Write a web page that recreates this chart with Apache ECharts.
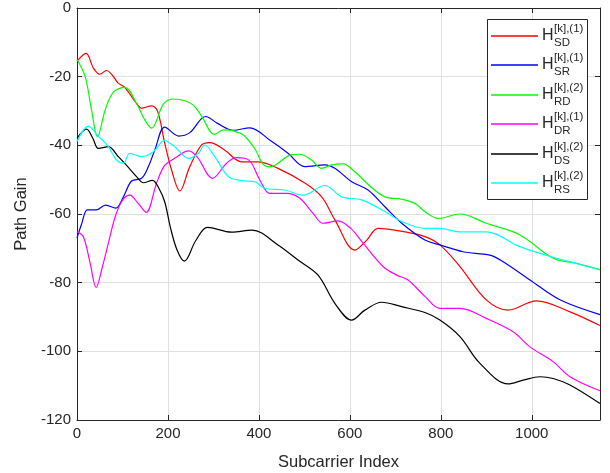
<!DOCTYPE html>
<html>
<head>
<meta charset="utf-8">
<script src="https://cdn.jsdelivr.net/npm/echarts@6/dist/echarts.min.js"></script>
<style>
html,body{margin:0;padding:0;background:#fff;}
#chart{width:610px;height:473px;}
</style>
</head>
<body>
<div id="chart"></div>
<script>
// ---- data ----
const xTicks = [0, 200, 400, 600, 800, 1000];
const yTicks = [-120, -100, -80, -60, -40, -20, 0];

const sdData = [[0,-15.5],[20,-13.2],[36,-17.5],[50,-19.3],[65,-18.2],[78,-19.6],[90,-21.8],[105,-23.1],[131,-27.8],[142,-29.2],[164,-28.5],[177,-30],[193,-39.4],[208,-47.2],[226,-53.3],[248,-46.2],[274,-39.9],[292,-39.2],[325,-41.4],[362,-44.8],[398,-44.8],[442,-46.7],[501,-51],[538,-55],[567,-61.7],[611,-70.5],[637,-67.6],[662,-64.2],[721,-65.2],[765,-66.6],[798,-69],[842,-75.3],[900,-85],[948,-88],[1010,-85.3],[1084,-88.5],[1150,-92.5]];
const srData = [[0,-67],[10,-63],[23,-58.8],[42,-58.8],[63,-57.4],[85,-58.3],[102,-55],[120,-50.4],[142,-49.6],[157,-46.2],[171,-41.4],[193,-34.7],[224,-37.3],[248,-36.3],[283,-31.6],[309,-33.6],[344,-35.6],[380,-34.9],[426,-38.7],[464,-42.3],[501,-46.2],[545,-45.7],[567,-46.7],[604,-50.6],[640,-53],[677,-57.9],[714,-62.7],[765,-67.6],[798,-69],[849,-71],[908,-72],[937,-73.9],[996,-79.2],[1062,-85],[1150,-89.3]];
const rdData = [[0,-15],[18,-20],[32,-29.7],[45,-37.5],[62,-29.7],[80,-24.5],[105,-23.1],[131,-27.8],[149,-32.6],[164,-35],[190,-28],[212,-26.5],[237,-27],[256,-28.3],[274,-31.5],[302,-36.8],[322,-35.5],[344,-35.8],[366,-37],[391,-41],[409,-45.5],[424,-46.3],[470,-42.8],[490,-42.6],[516,-44.3],[538,-46.7],[560,-45.7],[585,-45.4],[611,-47.7],[648,-52.3],[677,-55],[714,-55.7],[743,-56.9],[765,-59.3],[794,-61.3],[842,-60],[900,-62.7],[974,-66.1],[1047,-72.9],[1098,-74.4],[1150,-76.2]];
const drData = [[0,-65.2],[14,-66.6],[29,-74.4],[42,-81.4],[56,-75.3],[69,-68.5],[84,-60.8],[100,-56],[116,-54.5],[135,-57],[152,-59.5],[175,-51],[192,-46],[212,-44],[246,-41.6],[265,-43.5],[298,-49.6],[329,-45.2],[351,-43.6],[378,-44.3],[402,-50.1],[424,-54],[461,-54],[490,-55.4],[519,-59.8],[541,-62.7],[574,-62],[602,-64.2],[629,-68.5],[673,-75.3],[703,-77.8],[728,-79.2],[765,-84],[798,-87.5],[842,-87.5],[900,-90.4],[959,-94.3],[996,-98.7],[1047,-103],[1084,-107.4],[1150,-111.5]];
const dsData = [[0,-38],[21,-35.3],[35,-38],[47,-40.9],[69,-40.4],[91,-43.3],[113,-46.4],[131,-49.1],[146,-50.9],[166,-50.2],[180,-52.5],[193,-56.5],[205,-63.7],[220,-70.5],[236,-73.7],[261,-67.8],[287,-63.9],[340,-65.3],[385,-64.7],[442,-69],[486,-73.4],[530,-77.8],[567,-86],[604,-90.9],[633,-88],[670,-85.7],[714,-87],[765,-88.7],[798,-90.9],[842,-95.7],[886,-103.5],[948,-109.5],[981,-108.4],[1018,-107.4],[1047,-107.9],[1084,-109.8],[1150,-115.2]];
const rsData = [[0,-38.9],[25,-34.4],[47,-37.3],[69,-40.4],[87,-44.3],[102,-45.2],[116,-42.3],[142,-43.3],[168,-41.9],[192,-38.6],[215,-40.4],[245,-43.8],[267,-42.3],[281,-39.9],[303,-43.3],[333,-49.1],[362,-50.3],[391,-50.6],[413,-52.5],[457,-53],[497,-54.5],[545,-51.7],[582,-55],[626,-55.9],[677,-59.3],[714,-62.2],[765,-64.2],[798,-64.2],[842,-65.2],[900,-65.2],[974,-69.5],[1047,-72.6],[1098,-74.4],[1150,-76.3]];

const legendSub = ['SD', 'SR', 'RD', 'DR', 'DS', 'RS'];
const legendSup = ['[k],(1)', '[k],(1)', '[k],(2)', '[k],(1)', '[k],(2)', '[k],(2)'];
const seriesColors = ['#ff0000', '#0000ff', '#00ff00', '#ff00ff', '#000000', '#00ffff'];
const seriesData = [sdData, srData, rdData, drData, dsData, rsData];

// ---- chart ----
const FONT = '"Liberation Sans", Arial, Helvetica, sans-serif';
const AX = '#262626';
const chart = echarts.init(document.getElementById('chart'), null, {renderer: 'canvas'});

const series = seriesData.map((d, i) => ({
  name: 'H_' + legendSub[i] + '^' + legendSup[i],
  type: 'line',
  data: d,
  smooth: 0.35,
  showSymbol: false,
  symbol: 'none',
  xAxisIndex: 0,
  yAxisIndex: 0,
  lineStyle: {color: seriesColors[i], width: 1.2},
  itemStyle: {color: seriesColors[i]},
  z: 3
}));

const graphic = [{
  type: 'rect', z: 100,
  shape: {x: 487.5, y: 19.5, width: 100, height: 180},
  style: {fill: '#fff', stroke: AX, lineWidth: 1}
}];
legendSub.forEach((s, i) => {
  const y = Math.round(36 + 29.4 * i);
  graphic.push({type: 'line', z: 101, shape: {x1: 491, y1: y, x2: 538, y2: y},
    style: {stroke: seriesColors[i], lineWidth: 1.6}});
  graphic.push({type: 'text', z: 101, x: 542, y: y,
    style: {text: 'H', fontSize: 16, fontFamily: FONT, fill: AX, verticalAlign: 'middle', align: 'left'}});
  graphic.push({type: 'text', z: 101, x: 554, y: y - 7,
    style: {text: legendSup[i], fontSize: 11.5, fontFamily: FONT, fill: AX, verticalAlign: 'middle', align: 'left'}});
  graphic.push({type: 'text', z: 101, x: 554, y: y + 7,
    style: {text: s, fontSize: 11.5, fontFamily: FONT, fill: AX, verticalAlign: 'middle', align: 'left'}});
});

const plainNum = v => String(v);

const option = {
  animation: false,
  backgroundColor: '#fff',
  grid: {left: 77, right: 10, top: 8, bottom: 53, containLabel: false, outerBoundsMode: 'none'},
  xAxis: [{
    type: 'value', min: 0, max: 1150, interval: 200, position: 'bottom',
    name: 'Subcarrier Index', nameLocation: 'middle', nameGap: 34,
    nameTextStyle: {fontSize: 16.5, fontFamily: FONT, color: AX},
    axisLine: {show: true, onZero: false, lineStyle: {color: AX, width: 1}},
    axisTick: {show: true, inside: true, length: 5, lineStyle: {color: AX}},
    axisLabel: {fontSize: 15, fontFamily: FONT, color: AX, margin: 6, showMaxLabel: false, formatter: plainNum},
    splitLine: {show: true, lineStyle: {color: '#e0e0e0', width: 1}}
  }, {
    type: 'value', min: 0, max: 1150, interval: 200, position: 'top',
    axisLine: {show: true, onZero: false, lineStyle: {color: AX, width: 1}},
    axisTick: {show: true, inside: true, length: 5, lineStyle: {color: AX}},
    axisLabel: {show: false}, splitLine: {show: false}
  }],
  yAxis: [{
    type: 'value', min: -120, max: 0, interval: 20, position: 'left',
    name: 'Path Gain', nameLocation: 'middle', nameGap: 46, nameRotate: 90,
    nameTextStyle: {fontSize: 16.5, fontFamily: FONT, color: AX},
    axisLine: {show: true, onZero: false, lineStyle: {color: AX, width: 1}},
    axisTick: {show: true, inside: true, length: 5, lineStyle: {color: AX}},
    axisLabel: {fontSize: 15, fontFamily: FONT, color: AX, margin: 6, formatter: plainNum},
    splitLine: {show: true, lineStyle: {color: '#e0e0e0', width: 1}}
  }, {
    type: 'value', min: -120, max: 0, interval: 20, position: 'right',
    axisLine: {show: true, onZero: false, lineStyle: {color: AX, width: 1}},
    axisTick: {show: true, inside: true, length: 5, lineStyle: {color: AX}},
    axisLabel: {show: false}, splitLine: {show: false}
  }],
  series: series,
  graphic: graphic
};
chart.setOption(option);
</script>
</body>
</html>
